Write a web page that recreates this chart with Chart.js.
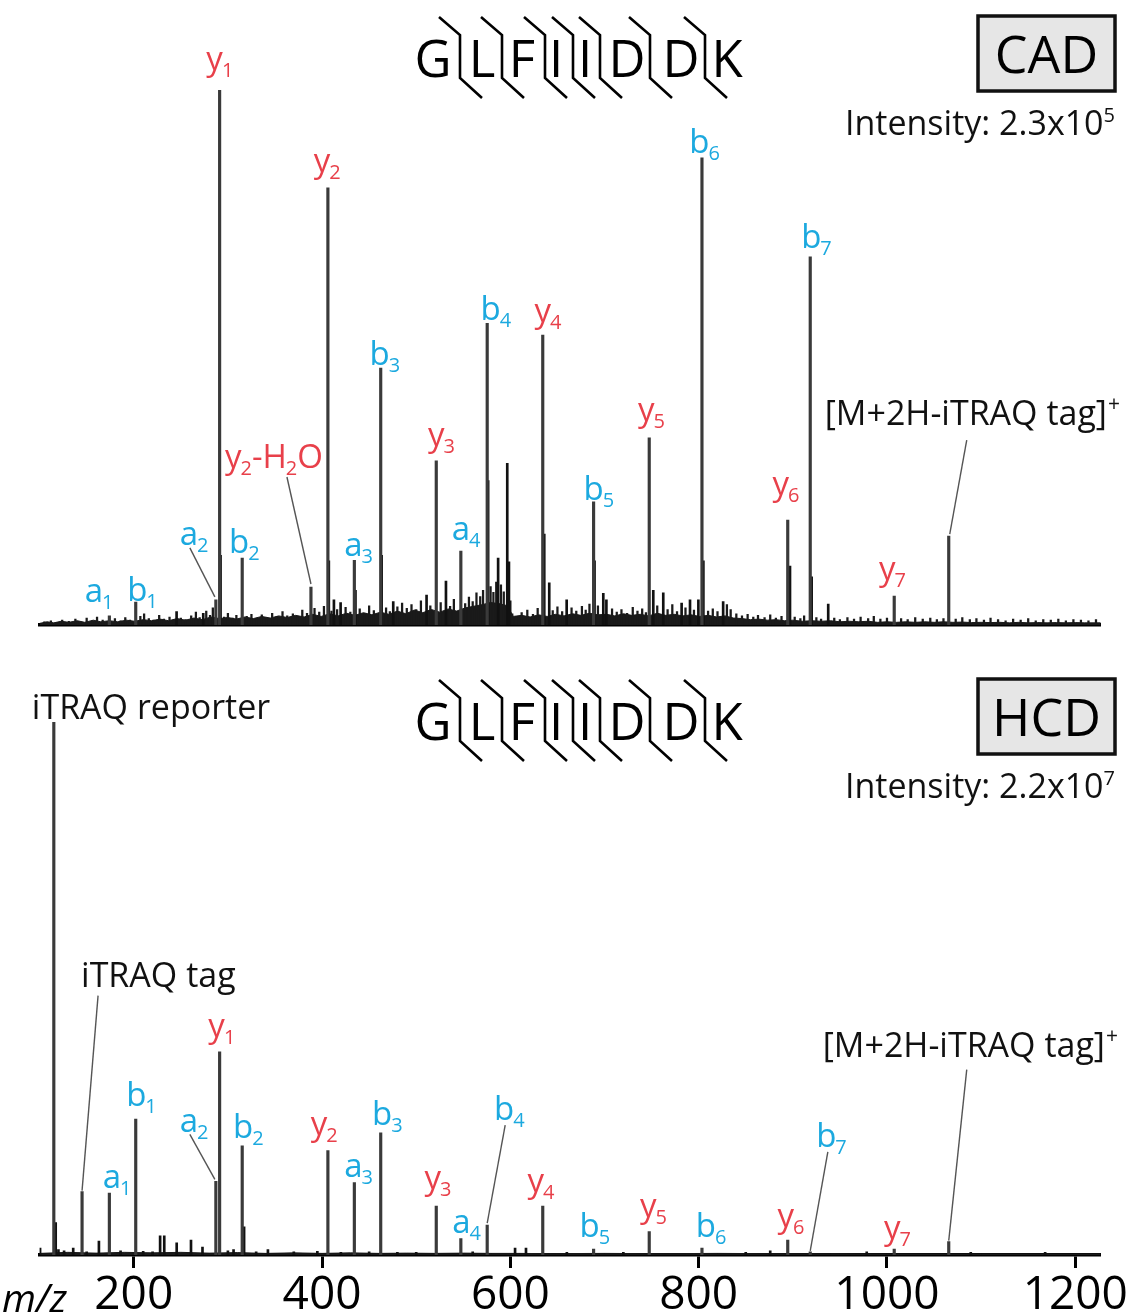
<!DOCTYPE html>
<html><head><meta charset="utf-8">
<script src="https://cdn.jsdelivr.net/npm/chart.js@4.4.1/dist/chart.umd.min.js"></script>
<style>
html,body{margin:0;padding:0;background:#fff;}
#c1{position:absolute;left:0;top:0;}
#c2{position:absolute;left:0;top:640px;}
</style>
</head><body>
<canvas id="c1" width="1134" height="640"></canvas>
<canvas id="c2" width="1134" height="675"></canvas>
<script>
// ---------------- DATA ----------------
const xTicks = [200, 400, 600, 800, 1000, 1200];
const peptide = ['G','L','F','I','I','D','D','K'];

// CAD spectrum (relative intensity, %)
const cadIonNames = ['a1','b1','a2','y1','b2','y2-H2O','y2','a3','b3','y3','a4','b4','y4','b5','y5','b6','y6','b7','y7','[M+2H-iTRAQ tag]+'];
const cadIonMz    = [174.1,202.1,287.2,291.2,315.2,388.2,406.2,434.3,462.3,521.3,547.4,575.4,634.4,688.4,747.5,803.5,894.6,918.5,1007.7,1065.6];
const cadIonInt   = [1.7,4.3,4.7,100,12.5,7.1,81.7,12.1,48.0,30.7,13.8,56.4,54.2,23.0,35.0,87.3,19.6,68.8,5.4,16.6];
const cadOtherMz  = [245.5,273.8,292.2,407.2,412.6,419.7,435.5,463.3,475.6,511.0,531.6,576.4,587.0,596.7,598.5,636.0,641.3,659.8,689.4,698.7,702.0,751.8,762.4,781.9,790.8,799.7,805.0,826.0,897.0,920.0,937.6];
const cadOtherInt = [2.5,2.2,13,12,4.7,4.2,6.5,13,4.4,5.6,8.2,27,12.5,30.2,11.8,17,7.9,4.7,12,5.9,4.7,6.5,6.0,4.1,4.7,4.7,12,4.4,11,9,3.9];
const cadNoiseMz  = [105,112,118,124,131,138,143,150,156,161,167,172,180,186,191,196,207,211,216,221,227,232,238,242,250,255,261,266,270,277,281,284,296,300,305,309,320,325,330,336,341,347,352,358,363,369,374,379,384,392,397,402,410,416,425,430,440,445,450,455,468,472,480,485,490,495,500,505,515,526,536,540,552,556,560,564,568,571,579,582,585,590,593,600,602,606,612,618,624,629,645,650,655,665,670,676,680,684,693,708,713,718,724,730,735,740,744,756,767,772,777,786,795,810,815,820,830,834,840,846,852,858,863,870,876,882,888,902,908,912,925,930,944,950,958,965,972,980,986,993,1000,1015,1022,1030,1038,1046,1053,1060,1073,1080,1088,1095,1103,1110,1118,1126,1134,1142,1150,1158,1166,1174,1182,1190,1198,1206,1214,1222];
const cadNoiseInt = [0.6,0.8,0.5,0.9,0.7,1.1,0.6,1.3,0.8,1.5,0.9,0.7,1.2,0.8,1.4,0.9,1.6,2.1,1.2,0.9,1.8,1.1,1.5,0.8,1.3,1.0,1.7,2.4,1.4,2.6,1.8,3.2,1.5,2.2,1.3,1.8,1.6,2.0,1.2,1.9,1.4,2.2,1.6,2.5,1.7,2.1,1.5,2.8,2.2,3.1,2.4,3.5,2.6,2.9,3.3,2.4,3.0,2.2,3.6,2.7,3.2,2.5,3.4,4.1,3.1,3.8,2.9,4.5,3.6,4.2,3.5,4.8,4.0,5.2,4.4,6.0,5.3,6.5,7.2,6.1,8.0,7.5,6.2,4.5,2.1,1.6,2.3,2.8,2.0,3.1,2.7,3.4,2.5,3.2,2.6,3.5,2.8,3.9,3.6,3.0,2.4,2.9,2.2,3.3,2.6,3.0,2.3,3.6,2.9,3.8,2.5,3.2,2.8,2.6,3.0,2.5,3.8,2.9,2.1,1.7,2.0,1.5,1.8,1.4,1.9,1.3,1.6,1.5,1.2,1.7,1.4,1.1,1.3,1.0,1.4,1.1,1.5,1.2,1.6,1.1,1.3,1.2,1.0,1.4,1.1,1.3,1.0,1.2,1.1,1.4,1.0,1.2,0.9,1.3,1.0,0.8,1.1,0.9,1.2,0.8,1.0,0.9,1.1,0.8,1.0,0.9,0.8,1.0];
const cadFloorMz  = [100,108,115,123,131,140,148,157,165,174,183,192,201,210,219,228,237,246,255,264,273,282,291,300,309,318,327,336,345,354,363,372,381,390,399,408,417,426,435,444,453,462,471,480,489,498,507,516,525,534,543,552,561,570,579,588,597,603,612,621,630,639,648,657,666,675,684,693,702,711,720,729,738,747,756,765,774,783,792,801,810,819,828,837,846,855,864,873,882,891,900,910,920,930,940,950,960,970,980,990,1000,1010,1020,1030,1040,1050,1060,1070,1080,1090,1100,1110,1120,1130,1140,1150,1160,1170,1180,1190,1200,1210,1227];
const cadFloorInt = [0.3,0.6,0.4,0.7,0.5,0.8,0.5,0.9,0.6,0.8,0.6,0.9,0.7,1.0,0.8,1.1,0.8,1.2,0.9,1.3,1.0,1.5,1.2,1.4,1.1,1.5,1.2,1.6,1.3,1.7,1.4,1.8,1.5,2.0,1.6,2.1,1.7,2.2,1.8,2.3,1.9,2.4,2.0,2.6,2.1,2.8,2.3,2.9,2.4,3.0,2.6,3.2,3.5,3.8,4.2,4.0,3.6,1.6,1.8,1.5,1.9,1.6,2.0,1.7,2.1,1.8,2.2,1.9,2.0,1.7,2.1,1.8,2.0,1.7,2.2,1.8,2.0,1.7,1.9,1.6,1.8,1.5,1.7,1.3,1.2,1.0,1.1,0.9,1.0,0.8,0.9,0.7,0.8,0.7,0.8,0.6,0.7,0.6,0.7,0.5,0.6,0.5,0.6,0.5,0.6,0.5,0.6,0.5,0.55,0.45,0.5,0.45,0.5,0.4,0.5,0.4,0.45,0.4,0.45,0.4,0.45,0.4,0.4];

// HCD spectrum (relative intensity, %)
const hcdIonNames = ['iTRAQ reporter','iTRAQ tag','a1','b1','a2','y1','b2','y2','a3','b3','y3','a4','b4','y4','b5','y5','b6','y6','b7','y7','[M+2H-iTRAQ tag]+'];
const hcdIonMz    = [115.1,145.1,174.1,202.1,287.2,291.2,315.2,406.2,434.3,462.3,521.3,547.4,575.4,634.4,688.4,747.5,803.5,894.6,918.5,1007.7,1065.6];
const hcdIonInt   = [100,11.9,11.6,25.5,13.8,38.1,20.5,19.6,13.6,22.9,9.2,3.1,5.6,9.2,1.1,4.4,1.3,2.8,0.6,1.1,2.5];
const hcdOtherMz  = [100.5,117.1,120,126,135.7,150,163,186,210,220,228,232.4,245.6,260.8,273,300,306,317.2,330,342.5,370,395,420,450,480,500,560,605,616.6,660,720,850,876,978.5,1089,1168];
const hcdOtherInt = [1.3,6.1,1.0,0.8,1.3,0.6,2.6,0.8,0.7,0.6,3.6,3.6,2.3,2.8,1.5,0.8,1.0,5.3,0.6,1.0,0.6,0.7,0.5,0.6,0.5,0.5,0.6,1.3,1.3,0.5,0.5,0.5,0.8,0.6,0.5,0.5];
const hcdFloorMz  = [100,130,160,190,220,250,280,310,340,370,400,430,460,490,520,550,580,610,640,700,760,820,880,940,1000,1100,1227];
const hcdFloorInt = [0.3,0.5,0.35,0.5,0.4,0.5,0.35,0.45,0.3,0.4,0.3,0.4,0.3,0.35,0.3,0.35,0.3,0.3,0.25,0.3,0.25,0.3,0.25,0.25,0.2,0.2,0.2];

// ---------------- STYLE / LAYOUT ----------------
const FONT = '"Open Sans", "Noto Sans", sans-serif';
const RED = '#e8404a', BLUE = '#1ca9df', PEAK = '#3a3a3a';
const seqX = [433, 482, 522, 556, 585, 627, 681, 727];
const sepX = [460, 502, 545, 573, 600, 650, 705];

const cadLayout = {
  'a1':{dx:-15.5,dy:-14}, 'b1':{dx:1.5,dy:-1},
  'a2':{dx:-27,dy:-55,lead:[-26,-52,-1,-3]},
  'y1':{dx:-5,dy:-20}, 'b2':{dx:-3,dy:-5},
  'y2-H2O':{align:'left',dx:-86,dy:-119,lead:[-24,-110,0,-3]},
  'y2':{dx:-6,dy:-16}, 'a3':{dx:-1,dy:-4}, 'b3':{dx:-1,dy:-3},
  'y3':{dx:0,dy:-15}, 'a4':{dx:0,dy:-11}, 'b4':{dx:3.5,dy:-3},
  'y4':{dx:0,dy:-13}, 'b5':{dx:0,dy:-2}, 'y5':{dx:-3,dy:-17},
  'b6':{dx:-2.5,dy:-5}, 'y6':{dx:-7,dy:-25}, 'b7':{dx:1,dy:-9},
  'y7':{dx:-7,dy:-16},
  '[M+2H-iTRAQ tag]+':{align:'left',dx:-124,dy:-111,lead:[18,-96,1,-2],size:34}
};
const hcdLayout = {
  'iTRAQ reporter':{align:'left',dx:-22,dy:-3,size:34},
  'iTRAQ tag':{align:'left',dx:-1,dy:-205,lead:[16,-196,0,-1],size:34},
  'a1':{dx:2.5,dy:-5}, 'b1':{dx:0.5,dy:-13},
  'a2':{dx:-27,dy:-49,lead:[-26,-47,-1,-2]},
  'y1':{dx:-3,dy:-15}, 'b2':{dx:1,dy:-8}, 'y2':{dx:-9,dy:-16},
  'a3':{dx:-1,dy:-6}, 'b3':{dx:1.5,dy:-8}, 'y3':{dx:-3.5,dy:-17},
  'a4':{dx:0.5,dy:-5}, 'b4':{dx:17,dy:-105,lead:[18,-100,0,-2]},
  'y4':{dx:-7,dy:-14}, 'b5':{dx:-4,dy:-12}, 'y5':{dx:-1,dy:-15},
  'b6':{dx:4,dy:-11}, 'y6':{dx:-2,dy:-13},
  'b7':{dx:16,dy:-105,lead:[17.6,-100,0,-1]}, 'y7':{dx:-2,dy:-10},
  '[M+2H-iTRAQ tag]+':{align:'left',dx:-126,dy:-185,lead:[18,-172,0,-1],size:34}
};

function ionColor(n){ if(n[0]==='y') return RED; if(n[0]==='a'||n[0]==='b') return BLUE; return '#111'; }
function segments(n){
  if(n==='y2-H2O') return [['y','m'],['2','s'],['-H','m'],['2','s'],['O','m']];
  if(n.startsWith('[M')) return [['[M+2H-iTRAQ tag]','m'],['+','p']];
  if(n.startsWith('iTRAQ')) return [[n,'m']];
  return [[n[0],'m'],[n.slice(1),'s']];
}
function drawRich(ctx, segs, x, y, color, size){
  ctx.fillStyle = color; ctx.textBaseline = 'alphabetic'; ctx.textAlign = 'left';
  let cx = x;
  for(const [t,k] of segs){
    if(k==='m'){ ctx.font = size+'px '+FONT; ctx.fillText(t,cx,y); cx += ctx.measureText(t).width; }
    else if(k==='s'){ cx -= 1; ctx.font = Math.round(size*0.6)+'px '+FONT; ctx.fillText(t,cx,y+7); cx += ctx.measureText(t).width; }
    else { cx += 1; ctx.font = Math.round(size*0.62)+'px '+FONT; ctx.fillText(t,cx,y-14); cx += ctx.measureText(t).width; }
  }
}

function labelPlugin(names, mz, ints, layout){
  return { id:'ionLabels', afterDatasetsDraw(chart){
    const ctx = chart.ctx, xs = chart.scales.x, ys = chart.scales.y;
    ctx.save();
    names.forEach((n,i)=>{
      const L = layout[n]; if(!L) return;
      const px = xs.getPixelForValue(mz[i]), pt = ys.getPixelForValue(ints[i]);
      const segs = segments(n), size = L.size || 33;
      let sx;
      if(L.align==='left') sx = px + L.dx;
      else { ctx.font = size+'px '+FONT; sx = px + L.dx - ctx.measureText(segs[0][0]).width/2; }
      drawRich(ctx, segs, sx, pt + L.dy, ionColor(n), size);
      if(L.lead){
        ctx.strokeStyle = '#555'; ctx.lineWidth = 1.4;
        ctx.beginPath(); ctx.moveTo(px+L.lead[0], pt+L.lead[1]); ctx.lineTo(px+L.lead[2], pt+L.lead[3]); ctx.stroke();
      }
    });
    ctx.restore();
  }};
}

function headerPlugin(off, boxText, intText, intSup, extra){
  return { id:'header', afterDraw(chart){
    const ctx = chart.ctx;
    ctx.save();
    ctx.fillStyle = '#000'; ctx.textAlign = 'center'; ctx.textBaseline = 'alphabetic';
    ctx.font = '51px '+FONT;
    peptide.forEach((c,i)=>ctx.fillText(c, seqX[i], 77+off));
    ctx.strokeStyle = '#000'; ctx.lineWidth = 2.6; ctx.lineJoin = 'miter';
    sepX.forEach(v=>{ ctx.beginPath(); ctx.moveTo(v-21,17+off); ctx.lineTo(v,35+off); ctx.lineTo(v,78+off); ctx.lineTo(v+22,98+off); ctx.stroke(); });
    ctx.fillStyle = '#e6e6e6'; ctx.fillRect(978,16+off,137,75);
    ctx.lineWidth = 3.5; ctx.strokeStyle = '#111'; ctx.strokeRect(978,16+off,137,75);
    ctx.fillStyle = '#000'; ctx.font = '52px '+FONT; ctx.fillText(boxText, 1046.5, 73+off);
    ctx.textAlign = 'left';
    ctx.font = '34px '+FONT; const w1 = ctx.measureText(intText).width;
    ctx.font = '20px '+FONT; const w2 = ctx.measureText(intSup).width;
    const sx = 1115 - w1 - w2;
    ctx.font = '34px '+FONT; ctx.fillStyle = '#111'; ctx.fillText(intText, sx, 135+off);
    ctx.font = '20px '+FONT; ctx.fillText(intSup, sx+w1, 122+off);
    if(extra) extra(ctx);
    ctx.restore();
  }};
}

function datasets(ionMz, ionInt, otherMz, otherInt, floorMz, floorInt, noiseMz, noiseInt){
  const ds = [
    { type:'bar', data: ionMz.map((m,i)=>({x:m,y:ionInt[i]})), backgroundColor:PEAK, barThickness:2.5, grouped:false, borderWidth:0, order:1 },
    { type:'bar', data: otherMz.map((m,i)=>({x:m,y:otherInt[i]})), backgroundColor:'#111', barThickness:2, grouped:false, borderWidth:0, order:2 },
    { type:'line', data: floorMz.map((m,i)=>({x:m,y:floorInt[i]})), fill:'origin', backgroundColor:'#1a1a1a', borderColor:'#1a1a1a', borderWidth:1, pointRadius:0, tension:0, order:4 }
  ];
  if(noiseMz) ds.push({ type:'bar', data: noiseMz.map((m,i)=>({x:m,y:noiseInt[i]})), backgroundColor:'#1a1a1a', barThickness:1.6, grouped:false, borderWidth:0, order:3 });
  return ds;
}

const baseX = { type:'linear', min:100, max:1227, offset:false };

new Chart(document.getElementById('c1'), {
  type:'bar',
  data:{ datasets: datasets(cadIonMz,cadIonInt,cadOtherMz,cadOtherInt,cadFloorMz,cadFloorInt,cadNoiseMz,cadNoiseInt) },
  options:{
    responsive:false, animation:false, events:[],
    layout:{ padding:{ left:39.6, right:33.3, top:90, bottom:0 } },
    plugins:{ legend:{display:false}, tooltip:{enabled:false} },
    scales:{
      x:{ ...baseX, grid:{display:false, offset:false}, ticks:{display:false}, border:{display:true,width:3.5,color:'#000'}, afterFit:s=>{ s.height = 15; } },
      y:{ display:false, min:0, max:100 }
    }
  },
  plugins:[ labelPlugin(cadIonNames,cadIonMz,cadIonInt,cadLayout), headerPlugin(0,'CAD','Intensity: 2.3x10','5') ]
});

new Chart(document.getElementById('c2'), {
  type:'bar',
  data:{ datasets: datasets(hcdIonMz,hcdIonInt,hcdOtherMz,hcdOtherInt,hcdFloorMz,hcdFloorInt) },
  options:{
    responsive:false, animation:false, events:[],
    layout:{ padding:{ left:39.6, right:33.3, top:82, bottom:0 } },
    plugins:{ legend:{display:false}, tooltip:{enabled:false} },
    scales:{
      x:{ ...baseX,
        grid:{ display:true, offset:false, drawOnChartArea:false, drawTicks:true, tickLength:13, tickWidth:3, tickColor:'#000', color:'#000' },
        ticks:{ display:true, color:'#000', padding:0, maxRotation:0, autoSkip:false, font:{family:FONT,size:46}, callback:v=>String(v) },
        border:{ display:true, width:3.5, color:'#000' },
        afterBuildTicks:s=>{ s.ticks = xTicks.map(v=>({value:v})); },
        afterFit:s=>{ s.height = 60; }
      },
      y:{ display:false, min:0, max:100 }
    }
  },
  plugins:[ labelPlugin(hcdIonNames,hcdIonMz,hcdIonInt,hcdLayout),
    headerPlugin(23,'HCD','Intensity: 2.2x10','7', ctx=>{
      ctx.fillStyle='#000'; ctx.font='italic 39px '+FONT; ctx.textAlign='left'; ctx.fillText('m/z', 2, 672);
    }) ]
});
</script>
</body></html>
